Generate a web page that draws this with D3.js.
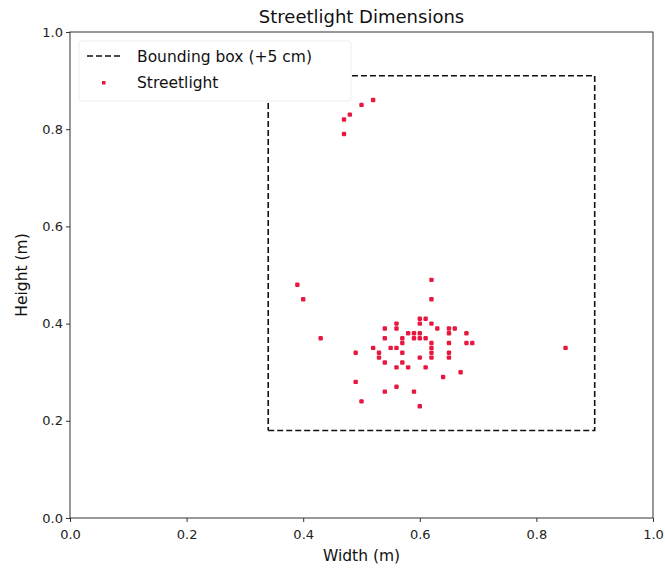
<!DOCTYPE html>
<html lang="en">
<head>
    <title>Streetlight Dimensions</title>
    <meta charset="utf-8">
    <script src="https://d3js.org/d3.v7.min.js"></script>
    <style>
        * {
            margin: 0;
            padding: 0;
        }
        body {
            background-color: white;
            font-family: "DejaVu Sans", sans-serif;
        }
    </style>
</head>
<body>
<div id="container"></div>
<script>
    // bounding box edges (m)
    const boxX = [0.34, 0.90];
    const boxY = [0.18, 0.91];

    // streetlight widths and heights (m)
    const widths = [
        0.52, 0.50, 0.48, 0.47, 0.47,
        0.39, 0.40, 0.43, 0.85,
        0.62, 0.62,
        0.60, 0.61,
        0.56, 0.60, 0.62,
        0.54, 0.56, 0.63, 0.65, 0.66,
        0.58, 0.59, 0.60, 0.65, 0.68,
        0.54, 0.57, 0.59, 0.60, 0.61,
        0.57, 0.62, 0.65, 0.68, 0.69,
        0.52, 0.55, 0.56, 0.62,
        0.49, 0.53, 0.57, 0.62, 0.65,
        0.53, 0.60, 0.62, 0.65,
        0.54, 0.57,
        0.56, 0.58, 0.61,
        0.67, 0.64, 0.49,
        0.56, 0.54, 0.59, 0.50, 0.60
    ];
    const heights = [
        0.86, 0.85, 0.83, 0.82, 0.79,
        0.48, 0.45, 0.37, 0.35,
        0.49, 0.45,
        0.41, 0.41,
        0.40, 0.40, 0.40,
        0.39, 0.39, 0.39, 0.39, 0.39,
        0.38, 0.38, 0.38, 0.38, 0.38,
        0.37, 0.37, 0.37, 0.37, 0.37,
        0.36, 0.36, 0.36, 0.36, 0.36,
        0.35, 0.35, 0.35, 0.35,
        0.34, 0.34, 0.34, 0.34, 0.34,
        0.33, 0.33, 0.33, 0.33,
        0.32, 0.32,
        0.31, 0.31, 0.31,
        0.30, 0.29, 0.28,
        0.27, 0.26, 0.26, 0.24, 0.23
    ];
    const ticks = [0, 0.2, 0.4, 0.6, 0.8, 1.0];

    const w = 665, h = 568;
    const margin = { top: 32, right: 12, bottom: 50, left: 70 };
    const red = "#e8173f";

    const svg = d3.select("#container")
        .append("svg")
        .attr("width", w)
        .attr("height", h);

    const xScale = d3.scaleLinear().domain([0, 1]).range([margin.left, w - margin.right]);
    const yScale = d3.scaleLinear().domain([0, 1]).range([h - margin.bottom, margin.top]);

    // bounding box
    const box = [[boxX[0], boxY[0]], [boxX[1], boxY[0]], [boxX[1], boxY[1]], [boxX[0], boxY[1]], [boxX[0], boxY[0]]];
    svg.append("path")
        .attr("d", d3.line().x(d => xScale(d[0])).y(d => yScale(d[1]))(box))
        .attr("fill", "none")
        .attr("stroke", "#111")
        .attr("stroke-width", 1.6)
        .attr("stroke-dasharray", "6,3");

    // points
    svg.selectAll("rect.pt")
        .data(widths.map((x, i) => [x, heights[i]]))
        .enter()
        .append("rect")
        .attr("class", "pt")
        .attr("x", d => xScale(d[0]) - 2.2)
        .attr("y", d => yScale(d[1]) - 2.2)
        .attr("width", 4.4)
        .attr("height", 4.4)
        .attr("rx", 1.2)
        .attr("fill", red);

    // axes
    const xAxis = d3.axisBottom(xScale).tickValues(ticks).tickFormat(d3.format(".1f")).tickSizeOuter(0).tickSize(4);
    const yAxis = d3.axisLeft(yScale).tickValues(ticks).tickFormat(d3.format(".1f")).tickSizeOuter(0).tickSize(4);

    const gx = svg.append("g")
        .attr("transform", `translate(0, ${h - margin.bottom})`)
        .call(xAxis);
    const gy = svg.append("g")
        .attr("transform", `translate(${margin.left}, 0)`)
        .call(yAxis);
    [gx, gy].forEach(g => {
        g.select(".domain").remove();
        g.selectAll("text")
            .attr("font-family", "DejaVu Sans")
            .attr("font-size", 13)
            .attr("fill", "#222");
        g.selectAll("line").attr("stroke", "#333");
    });
    gx.selectAll("text").attr("dy", "1.05em");

    // frame
    svg.append("rect")
        .attr("x", margin.left)
        .attr("y", margin.top)
        .attr("width", w - margin.left - margin.right)
        .attr("height", h - margin.top - margin.bottom)
        .attr("fill", "none")
        .attr("stroke", "#333")
        .attr("stroke-width", 1);

    // title and labels
    svg.append("text")
        .attr("x", (margin.left + w - margin.right) / 2)
        .attr("y", 23)
        .attr("text-anchor", "middle")
        .attr("font-size", 18)
        .attr("fill", "#111")
        .text("Streetlight Dimensions");

    svg.append("text")
        .attr("x", (margin.left + w - margin.right) / 2)
        .attr("y", 561)
        .attr("text-anchor", "middle")
        .attr("font-size", 15.5)
        .attr("fill", "#111")
        .text("Width (m)");

    svg.append("text")
        .attr("transform", `translate(27, ${(margin.top + h - margin.bottom) / 2}) rotate(-90)`)
        .attr("text-anchor", "middle")
        .attr("font-size", 15.5)
        .attr("fill", "#111")
        .text("Height (m)");

    // legend
    const legend = svg.append("g").attr("transform", "translate(79, 41)");
    legend.append("rect")
        .attr("width", 272)
        .attr("height", 60)
        .attr("rx", 3)
        .attr("fill", "white")
        .attr("stroke", "#eee");
    legend.append("line")
        .attr("x1", 8).attr("x2", 42)
        .attr("y1", 15).attr("y2", 15)
        .attr("stroke", "#111")
        .attr("stroke-width", 1.6)
        .attr("stroke-dasharray", "6,3");
    legend.append("text")
        .attr("x", 58).attr("y", 21)
        .attr("font-size", 15.5)
        .attr("fill", "#111")
        .text("Bounding box (+5 cm)");
    legend.append("rect")
        .attr("x", 23).attr("y", 40)
        .attr("width", 3.5).attr("height", 3.5)
        .attr("fill", red);
    legend.append("text")
        .attr("x", 58).attr("y", 47)
        .attr("font-size", 15.5)
        .attr("fill", "#111")
        .text("Streetlight");
</script>
</body>
</html>
